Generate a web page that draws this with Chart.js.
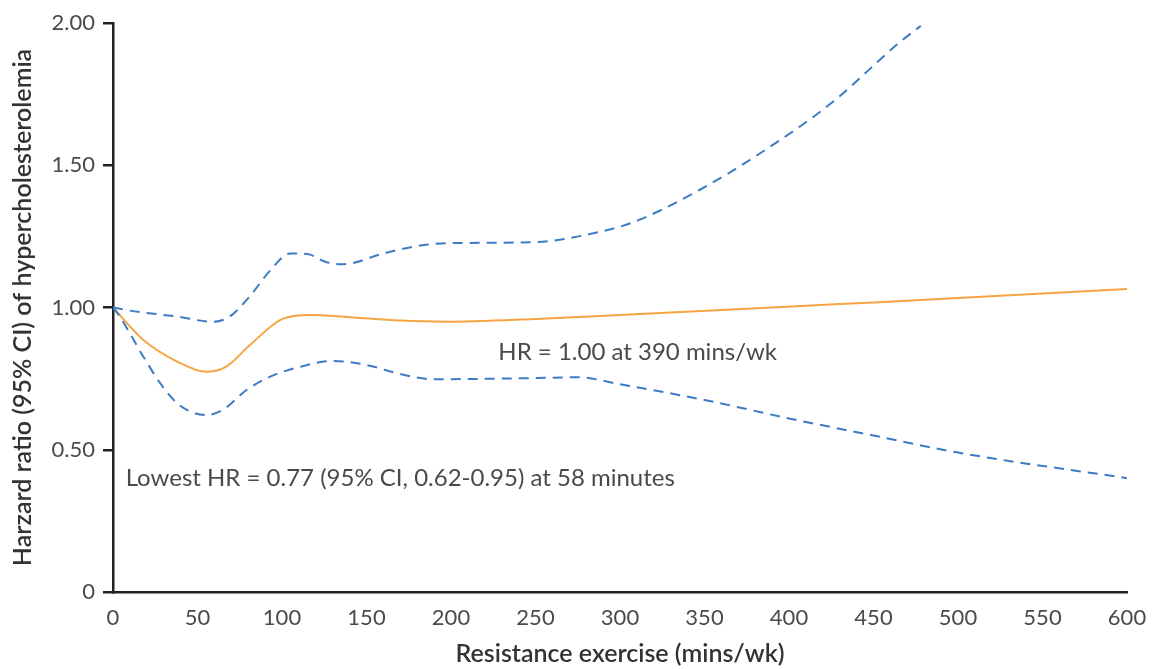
<!DOCTYPE html>
<html>
<head>
<meta charset="utf-8">
<script src="https://cdn.jsdelivr.net/npm/chart.js@4/dist/chart.umd.min.js"></script>
<style>
  html, body { margin: 0; padding: 0; background: #fff; }
  #wrap { width: 1155px; height: 669px; }
</style>
</head>
<body>
<div id="wrap"><canvas id="c"></canvas></div>
<script>
// values
const minutes = [0, 18, 38, 55, 67, 81, 101, 117, 140, 170, 197, 250, 300, 390, 450, 500, 600];
const hr      = [1.00, 0.886, 0.81, 0.774, 0.792, 0.868, 0.962, 0.974, 0.966, 0.954, 0.95, 0.96, 0.974, 1.00, 1.018, 1.033, 1.065];

const upperX = [0, 10, 38, 59, 69, 81, 93, 105, 115, 126, 136, 160, 180, 197, 250, 288, 308, 347, 386, 426, 465, 478];
const upperY = [1.00, 0.989, 0.968, 0.95, 0.968, 1.04, 1.13, 1.19, 1.188, 1.16, 1.152, 1.19, 1.216, 1.226, 1.23, 1.266, 1.30, 1.413, 1.554, 1.723, 1.93, 1.99];

const lowerX = [0, 4, 18, 28, 38, 46, 55, 65, 79, 93, 111, 130, 150, 170, 189, 250, 275, 300, 350, 400, 450, 500, 600];
const lowerY = [1.00, 0.968, 0.827, 0.733, 0.663, 0.634, 0.622, 0.64, 0.71, 0.757, 0.792, 0.812, 0.798, 0.766, 0.748, 0.752, 0.755, 0.73, 0.675, 0.61, 0.55, 0.49, 0.40];

const yTicks = [0, 0.5, 1.0, 1.5, 2.0];

const notes = [
  { text: 'HR = 1.00 at 390 mins/wk', x: 228, y: 0.843 },
  { text: 'Lowest HR = 0.77 (95% CI, 0.62-0.95) at 58 minutes', x: 7.5, y: 0.40 }
];

const pts = (xs, ys) => xs.map((x, i) => ({ x: x, y: ys[i] }));

const FONT = 'Lato, "Open Sans", sans-serif';
const TXT = '#4a4a4a';

// draws the two annotations at data coordinates
const notePlugin = {
  id: 'notes',
  afterDatasetsDraw(chart) {
    const ctx = chart.ctx;
    const xs = chart.scales.x, ys = chart.scales.y;
    ctx.save();
    ctx.font = '24px ' + FONT;
    ctx.fillStyle = TXT;
    ctx.textBaseline = 'middle';
    ctx.textAlign = 'left';
    notes.forEach(n => ctx.fillText(n.text, xs.getPixelForValue(n.x), ys.getPixelForValue(n.y)));
    ctx.restore();
  }
};

const dashed = {
  borderColor: '#3b7cc4',
  borderWidth: 2,
  borderDash: [10, 7],
  pointRadius: 0,
  fill: false,
  cubicInterpolationMode: 'monotone'
};

new Chart(document.getElementById('c'), {
  type: 'line',
  data: {
    datasets: [
      Object.assign({ label: 'Upper 95% CI', data: pts(upperX, upperY) }, dashed),
      Object.assign({ label: 'Lower 95% CI', data: pts(lowerX, lowerY) }, dashed),
      {
        label: 'HR',
        data: pts(minutes, hr),
        borderColor: '#f6a545',
        borderWidth: 2,
        pointRadius: 0,
        fill: false,
        cubicInterpolationMode: 'monotone'
      }
    ]
  },
  options: {
    responsive: true,
    maintainAspectRatio: false,
    animation: false,
    layout: { padding: { top: 23, right: 28, left: 8, bottom: 0 } },
    plugins: {
      legend: { display: false },
      tooltip: { enabled: false }
    },
    scales: {
      x: {
        type: 'linear',
        min: 0,
        max: 600,
        afterFit: s => { s.height = 77; },
        ticks: {
          stepSize: 50,
          padding: 5,
          color: TXT,
          font: { family: FONT, size: 22 }
        },
        grid: { display: false },
        border: { display: true, color: '#222', width: 2.5 },
        title: {
          display: true,
          text: 'Resistance exercise (mins/wk)',
          color: '#333',
          font: { family: FONT, size: 25, weight: '600' },
          padding: { top: 4, bottom: 0 }
        }
      },
      y: {
        min: 0,
        max: 2,
        afterFit: s => { s.width = 105; },
        afterBuildTicks: s => { s.ticks = yTicks.map(v => ({ value: v })); },
        ticks: {
          color: TXT,
          padding: 8,
          font: { family: FONT, size: 22 },
          callback: v => v === 0 ? '0' : v.toFixed(2)
        },
        grid: { drawOnChartArea: false, drawTicks: true, tickLength: 10, color: '#222', lineWidth: 2.5 },
        border: { display: true, color: '#222', width: 2.5 },
        title: {
          display: true,
          text: 'Harzard ratio (95% CI) of hypercholesterolemia',
          color: '#333',
          font: { family: FONT, size: 25, weight: '600' },
          padding: { top: 0, bottom: 6 }
        }
      }
    }
  },
  plugins: [notePlugin]
});
</script>
</body>
</html>
